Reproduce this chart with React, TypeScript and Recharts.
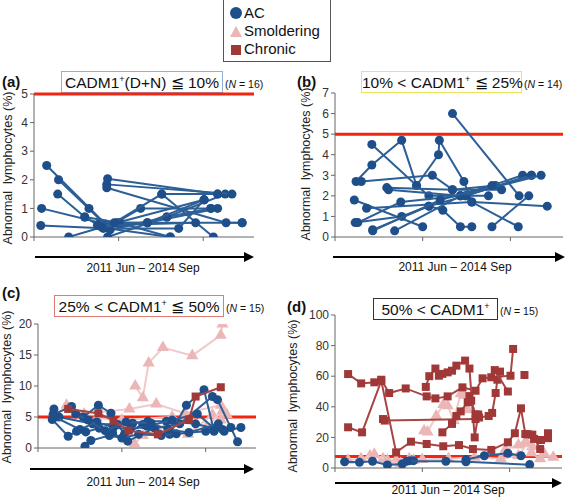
import React from "react";
import {
  ScatterChart,
  Scatter,
  XAxis,
  YAxis,
  ZAxis,
  ReferenceLine,
} from "recharts";

// each series = one patient, points are [time (years from 2011 Jun), abnormal lymphocytes %]
const panelA_AC: number[][][] = [
  [[0.15, 2.5], [0.88, 0.35], [1.26, 1.0], [2.09, 1.0]],
  [[0.29, 2.0], [0.84, 0.45], [1.02, 0.5], [2.46, 0.5]],
  [[0.28, 1.5], [0.6, 0.7], [0.82, 0.3], [1.71, 0.3], [2.01, 1.3]],
  [[0.09, 1.0], [0.78, 0.5], [1.34, 0.5], [2.17, 1.0]],
  [[0.08, 0.4], [0.88, 0.3], [1.61, 0.0]],
  [[0.41, 0.0], [0.98, 0.5], [2.01, 1.3]],
  [[0.65, 1.0], [0.9, 0.25], [1.57, 0.7], [2.26, 1.5]],
  [[0.87, 2.04], [2.17, 1.5]],
  [[0.86, 1.84], [2.34, 1.5]],
  [[0.86, 1.72], [2.27, 0.5], [2.46, 0.5]],
  [[0.87, 0.0], [1.57, 0.7], [2.09, 1.0]],
  [[1.51, 1.5], [2.12, 0.0]],
  [[0.75, 0.4], [1.91, 0.5]],
  [[0.6, 0.7], [1.0, 0.5], [1.61, 0.0]],
  [[0.8, 0.35], [1.34, 0.5], [2.01, 1.3]],
  [[0.95, 0.5], [1.51, 1.5], [2.17, 1.5]],
];

const panelB_AC: number[][][] = [
  [[1.34, 6.0], [2.1, 2.0]],
  [[0.42, 4.5], [0.93, 2.5], [1.07, 2.0], [1.49, 2.0], [2.24, 3.0]],
  [[0.24, 2.7], [0.42, 3.5], [0.76, 4.7], [0.93, 2.5], [1.18, 4.0], [1.19, 4.7], [1.47, 2.7], [1.56, 1.7], [2.09, 0.5]],
  [[0.3, 2.7], [1.11, 3.0], [1.34, 2.3], [1.83, 2.5]],
  [[0.59, 2.4], [1.34, 2.3], [1.9, 2.3]],
  [[0.61, 2.3], [1.43, 2.0], [1.75, 2.0]],
  [[0.22, 1.8], [1.0, 0.5]],
  [[0.36, 1.4], [1.56, 1.7], [2.42, 1.5]],
  [[0.23, 0.7], [0.76, 1.0], [1.07, 1.5], [1.23, 1.3], [1.43, 0.5], [1.56, 0.5]],
  [[0.26, 0.7], [0.75, 1.7], [1.43, 2.0], [2.14, 3.0]],
  [[0.43, 0.35], [1.07, 1.5], [1.49, 2.0], [2.24, 3.0]],
  [[0.68, 0.3], [1.43, 2.0], [2.35, 3.0]],
  [[1.79, 0.5], [2.21, 2.0]],
  [[0.43, 0.3], [1.2, 1.8], [1.79, 2.5]],
];

const panelC_SM: number[][][] = [
  [[1.16, 10.0], [1.25, 8.1], [1.32, 13.7], [1.49, 16.2], [1.84, 14.9], [2.18, 18.2], [2.2, 20]],
  [[0.34, 6.9], [0.55, 5.5], [1.09, 6.3], [1.41, 7.1], [1.75, 5.6], [2.18, 6.9], [2.25, 5.4]],
  [[1.15, 0.7], [1.25, 2.0], [1.45, 2.5], [1.79, 2.2], [2.08, 5.4], [2.18, 4.5]],
  [[0.7, 4.8], [1.0, 4.5], [1.6, 5.0], [2.0, 3.2], [2.2, 6.0]],
];

const panelC_AC: number[][][] = [
  [[0.18, 5.4], [0.4, 6.7], [0.54, 5.0], [0.72, 6.9], [0.87, 5.6], [1.03, 2.2], [1.25, 3.8], [1.57, 2.2], [1.77, 6.9], [1.98, 9.4], [2.1, 2.7]],
  [[0.17, 4.6], [0.36, 1.9], [0.46, 2.7], [0.57, 2.6], [0.73, 3.2], [0.89, 2.4], [1.07, 1.1], [1.39, 3.2], [1.69, 3.9], [2.08, 8.3], [2.14, 7.8], [2.38, 1.0]],
  [[0.19, 6.3], [0.25, 5.0], [0.65, 3.9], [0.95, 3.8], [1.13, 4.0], [1.31, 4.3], [1.53, 4.3], [1.88, 3.9], [2.22, 2.7], [2.42, 3.3]],
  [[0.56, 0.3], [0.63, 1.2], [0.85, 2.0], [1.0, 1.6], [1.2, 2.2], [1.47, 2.0], [1.65, 2.3], [2.0, 2.7], [2.3, 3.3]],
  [[0.2, 5.0], [0.5, 3.0], [0.7, 4.2], [0.9, 3.3], [1.1, 3.0], [1.3, 3.5], [1.6, 4.5], [1.9, 5.5], [2.1, 3.2]],
  [[0.45, 5.5], [0.6, 4.5], [0.8, 2.8], [1.05, 4.2], [1.35, 4.0], [1.55, 3.0], [1.8, 2.5], [2.15, 3.9], [2.2, 3.0]],
];

const panelC_CH: number[][][] = [
  [[0.36, 6.3], [0.72, 5.6], [0.9, 4.4], [1.08, 2.8], [1.43, 2.2], [1.8, 4.6], [1.88, 8.3], [2.18, 9.8]],
];

const panelD_SM: number[][][] = [
  [[1.02, 24.4], [1.06, 23.5], [1.16, 34], [1.24, 41.5], [1.29, 40.7], [1.36, 31], [1.44, 48.5], [1.48, 47.5], [1.52, 38]],
  [[0.4, 8], [0.55, 6], [0.7, 5], [0.85, 6], [1.0, 5.5], [1.3, 6], [1.6, 7], [1.9, 6], [2.1, 8], [2.2, 16], [2.26, 14], [2.4, 9], [2.5, 7]],
  [[0.15, 5], [0.3, 6], [0.45, 9], [0.6, 5], [0.75, 3], [0.9, 5]],
  [[1.95, 12], [2.1, 15], [2.18, 17], [2.25, 10], [2.35, 6]],
];

const panelD_CH: number[][][] = [
  [[0.15, 61.4], [0.3, 55.3], [0.45, 56], [0.53, 57.7], [0.62, 49], [0.81, 52], [1.05, 46.8], [1.15, 45.5], [1.29, 46.8], [1.46, 52.7], [1.61, 50.5], [1.69, 58.6], [1.79, 59.3], [2.01, 60.3], [2.04, 77.8]],
  [[1.04, 53], [1.08, 60], [1.15, 65], [1.19, 60.3], [1.23, 61.5], [1.29, 62.5], [1.34, 63.6], [1.39, 66.9], [1.49, 70.2], [1.54, 65], [1.6, 20], [1.64, 35]],
  [[0.15, 26.6], [0.31, 23.3], [0.53, 57], [0.7, 10.2], [0.87, 17.2], [1.05, 15.7], [1.24, 14.2], [1.42, 15], [1.58, 12.4], [1.79, 11.8], [1.98, 16.8], [2.06, 22.7], [2.13, 39], [2.18, 22.2], [2.26, 21.8], [2.35, 12.4]],
  [[0.55, 32], [0.57, 31], [1.61, 32]],
  [[1.23, 23.3], [1.34, 28.8], [1.39, 34], [1.44, 37], [1.52, 43], [1.54, 47], [1.56, 44], [1.61, 35], [1.65, 33], [1.76, 34], [1.8, 36], [1.84, 49], [1.86, 57.7], [1.89, 63]],
  [[1.83, 64], [1.98, 50]],
  [[2.17, 60.8]],
  [[2.21, 22], [2.28, 19], [2.36, 18.3], [2.44, 22.7], [2.44, 19.5]],
];

const panelD_AC: number[][][] = [
  [[0.11, 4.1], [0.28, 3.7], [0.43, 4.4], [0.6, 2.0], [0.77, 2.6], [0.86, 4.8], [0.9, 4.8]],
  [[0.82, 4.4], [1.27, 4.4], [1.5, 4.1], [2.23, 2.2]],
  [[1.5, 5.5], [1.71, 8], [1.98, 9.6], [2.13, 8]],
];

const xTicks = [0, 1, 2];
const yTicksA = [0, 1, 2, 3, 4, 5];
const yTicksB = [0, 1, 2, 3, 4, 5, 6, 7];
const yTicksC = [0, 5, 10, 15, 20];
const yTicksD = [0, 20, 40, 60, 80, 100];

const AC = "#1f4f8a";
const AC_LINE = "#2c5f96";
const SM = "#eab6b6";
const SM_LINE = "#f1c9c9";
const CH = "#a13838";
const CH_LINE = "#a84444";
const RED = "#f2250f";
const FONT = "'Liberation Sans', Arial, Helvetica, sans-serif";

const toPts = (s: number[][]) => s.map(([x, y]) => ({ x, y }));

type Group = { series: number[][][]; kind: "ac" | "sm" | "ch" };

interface PanelProps {
  left: number;
  top: number;
  plotW: number;
  plotH: number;
  yMax: number;
  yTicks: number[];
  refY: number;
  groups: Group[];
}

const styleOf = {
  ac: { fill: AC, line: AC_LINE, shape: "circle" as const },
  sm: { fill: SM, line: SM_LINE, shape: "triangle" as const },
  ch: { fill: CH, line: CH_LINE, shape: "square" as const },
};

const Panel = ({ left, top, plotW, plotH, yMax, yTicks, refY, groups }: PanelProps) => {
  const mTop = 8;
  const yW = 30;
  const xH = 12;
  return (
    <div style={{ position: "absolute", left: left - yW, top: top - mTop }}>
      <ScatterChart
        width={yW + plotW + 4}
        height={mTop + plotH + xH}
        margin={{ top: mTop, right: 4, bottom: 0, left: 0 }}
      >
        <XAxis
          type="number"
          dataKey="x"
          domain={[0, 2.6]}
          ticks={xTicks}
          tickFormatter={() => ""}
          height={xH}
          tickSize={4}
          stroke="#666"
          allowDataOverflow
        />
        <YAxis
          type="number"
          dataKey="y"
          domain={[0, yMax]}
          ticks={yTicks}
          width={yW}
          tickSize={4}
          stroke="#666"
          tick={{ fontSize: 12, fill: "#333" }}
          allowDataOverflow
        />
        <ZAxis zAxisId="ac" range={[38, 38]} />
        <ZAxis zAxisId="sm" range={[40, 40]} />
        <ZAxis zAxisId="ch" range={[50, 50]} />
        {groups.map((g, gi) =>
          g.series.map((s, i) => (
            <Scatter
              key={`${gi}-${i}`}
              data={toPts(s)}
              zAxisId={g.kind}
              fill={styleOf[g.kind].fill}
              shape={styleOf[g.kind].shape}
              line={{ stroke: styleOf[g.kind].line, strokeWidth: 2 }}
              isAnimationActive={false}
            />
          ))
        )}
        <ReferenceLine y={refY} stroke={RED} strokeWidth={3} />
      </ScatterChart>
    </div>
  );
};

const Title = ({ left, top, width, border, text, n }: { left: number; top: number; width: number; border: string; text: React.ReactNode; n: string }) => (
  <>
    <div
      style={{
        position: "absolute",
        left,
        top,
        width,
        height: 22,
        border: `1px solid ${border}`,
        boxSizing: "border-box",
        fontSize: 15.5,
        lineHeight: "21px",
        textAlign: "center",
        whiteSpace: "nowrap",
        color: "#111",
      }}
    >
      {text}
    </div>
    <div style={{ position: "absolute", left: left + width + 2, top: top + 7, fontSize: 10.5, whiteSpace: "nowrap", color: "#111" }}>
      (<i>N</i> = {n})
    </div>
  </>
);

const Sup = () => <sup style={{ fontSize: 9, verticalAlign: "6px", lineHeight: 0 }}>+</sup>;

const YLabel = ({ cx, cy }: { cx: number; cy: number }) => (
  <div
    style={{
      position: "absolute",
      left: cx - 90,
      top: cy - 8,
      width: 180,
      height: 16,
      fontSize: 12.5,
      lineHeight: "16px",
      textAlign: "center",
      transform: "rotate(-90deg)",
      whiteSpace: "nowrap",
      color: "#222",
    }}
  >
    Abnormal &nbsp;lymphocytes (%)
  </div>
);

const TimeLabel = ({ cx, cy }: { cx: number; cy: number }) => (
  <div style={{ position: "absolute", left: cx - 80, top: cy - 7, width: 160, fontSize: 12, lineHeight: "14px", textAlign: "center", color: "#111" }}>
    2011 Jun – 2014 Sep
  </div>
);

const PanelTag = ({ left, top, t }: { left: number; top: number; t: string }) => (
  <div style={{ position: "absolute", left, top, fontSize: 15, fontWeight: "bold", color: "#111" }}>{t}</div>
);

const Arrow = ({ x1, x2, y }: { x1: number; x2: number; y: number }) => (
  <g>
    <line x1={x1} y1={y} x2={x2 - 6} y2={y} stroke="#000" strokeWidth={2} />
    <polygon points={`${x2},${y} ${x2 - 10},${y - 5} ${x2 - 10},${y + 5}`} fill="#000" />
  </g>
);

export default function App() {
  return (
    <div style={{ position: "absolute", left: 0, top: 0, width: 574, height: 498, background: "#fff", fontFamily: FONT, overflow: "hidden" }}>
      {/* legend */}
      <div style={{ position: "absolute", left: 223, top: 0, width: 108, height: 62, border: "1px solid #555", borderTop: "none", boxSizing: "border-box" }} />
      <svg style={{ position: "absolute", left: 0, top: 0 }} width={574} height={498}>
        <circle cx={236} cy={13} r={6} fill={AC} />
        <polygon points="236,26 242,37 230,37" fill={SM} />
        <rect x={231} y={45} width={10} height={10} fill={CH} />
        <Arrow x1={35} x2={254} y={257} />
        <Arrow x1={333} x2={565} y={257} />
        <Arrow x1={30} x2={254} y={469} />
        <Arrow x1={335} x2={562} y={483} />
      </svg>
      <div style={{ position: "absolute", left: 244, top: 4, fontSize: 15, lineHeight: "18px", color: "#111" }}>
        <div>AC</div>
        <div>Smoldering</div>
        <div>Chronic</div>
      </div>

      <PanelTag left={2} top={73} t="(a)" />
      <PanelTag left={297} top={73} t="(b)" />
      <PanelTag left={2} top={284} t="(c)" />
      <PanelTag left={287} top={298} t="(d)" />

      <Title left={61} top={71} width={162} border="#8fb0dc" n="16" text={<>CADM1<Sup />(D+N) ≦ 10%</>} />
      <Title left={361} top={71} width={161} border="#ece45a" n="14" text={<>10% &lt; CADM1<Sup /> ≦ 25%</>} />
      <Title left={54} top={295} width={170} border="#e07a72" n="15" text={<>25% &lt; CADM1<Sup /> ≦ 50%</>} />
      <Title left={373} top={298} width={125} border="#333" n="15" text={<>50% &lt; CADM1<Sup /></>} />

      <YLabel cx={8} cy={168} />
      <YLabel cx={306} cy={164} />
      <YLabel cx={7} cy={387} />
      <YLabel cx={293} cy={396} />

      <TimeLabel cx={143} cy={268} />
      <TimeLabel cx={455} cy={267} />
      <TimeLabel cx={143} cy={482} />
      <TimeLabel cx={448} cy={490} />

      <Panel left={34} top={94} plotW={220} plotH={143} yMax={5} yTicks={yTicksA} refY={5} groups={[{ series: panelA_AC, kind: "ac" }]} />
      <Panel left={335} top={93} plotW={228} plotH={144} yMax={7} yTicks={yTicksB} refY={5} groups={[{ series: panelB_AC, kind: "ac" }]} />
      <Panel
        left={38}
        top={324}
        plotW={218}
        plotH={124}
        yMax={20}
        yTicks={yTicksC}
        refY={5}
        groups={[
          { series: panelC_SM, kind: "sm" },
          { series: panelC_AC, kind: "ac" },
          { series: panelC_CH, kind: "ch" },
        ]}
      />
      <Panel
        left={335}
        top={315}
        plotW={227}
        plotH={153}
        yMax={100}
        yTicks={yTicksD}
        refY={7.5}
        groups={[
          { series: panelD_SM, kind: "sm" },
          { series: panelD_CH, kind: "ch" },
          { series: panelD_AC, kind: "ac" },
        ]}
      />
    </div>
  );
}
